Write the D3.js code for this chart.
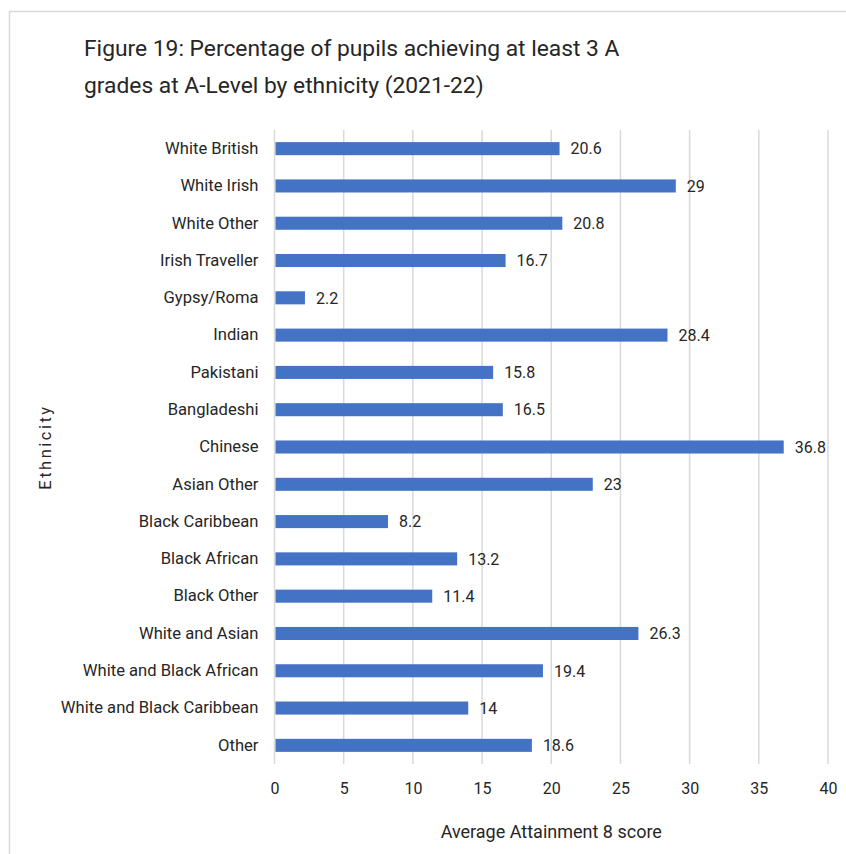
<!DOCTYPE html>
<html>
<head>
<meta charset="utf-8">
<script src="https://cdn.jsdelivr.net/npm/d3@7"></script>
<style>
  html, body { margin: 0; padding: 0; background: #fff; }
  svg { display: block; }
  text { font-family: Roboto, "Noto Sans", sans-serif; fill: #262626; }
</style>
</head>
<body>
<svg id="chart" width="846" height="854"></svg>
<script>
const categories = [
  "White British", "White Irish", "White Other", "Irish Traveller", "Gypsy/Roma",
  "Indian", "Pakistani", "Bangladeshi", "Chinese", "Asian Other",
  "Black Caribbean", "Black African", "Black Other", "White and Asian",
  "White and Black African", "White and Black Caribbean", "Other"
];
const values = [20.6, 29, 20.8, 16.7, 2.2, 28.4, 15.8, 16.5, 36.8, 23, 8.2, 13.2, 11.4, 26.3, 19.4, 14, 18.6];
const xTicks = [0, 5, 10, 15, 20, 25, 30, 35, 40];
const titleLines = [
  "Figure 19: Percentage of pupils achieving at least 3 A",
  "grades at A-Level by ethnicity (2021-22)"
];
const xAxisTitle = "Average Attainment 8 score";
const yAxisTitle = "Ethnicity";

const svg = d3.select("#chart");
const W = 846, H = 854;
const plot = { left: 274.5, right: 828, top: 130, bottom: 764 };
const labelFont = 'Roboto, "Noto Sans", sans-serif';

// outer chart frame
svg.append("rect")
  .attr("x", 9.5).attr("y", 11.5)
  .attr("width", W + 10).attr("height", H + 10)
  .attr("fill", "#fff").attr("stroke", "#d9d9d9").attr("stroke-width", 1.5);

// title
svg.append("g").selectAll("text").data(titleLines).join("text")
  .attr("x", 84).attr("y", (d, i) => 56 + i * 37)
  .attr("font-size", 22.8)
  .text(d => d);

const x = d3.scaleLinear().domain([0, 40]).range([plot.left, plot.right]);
const y = d3.scaleBand().domain(categories).range([plot.top, plot.bottom]).paddingInner(0.65).paddingOuter(0.325);

// vertical gridlines
svg.append("g").selectAll("line").data(xTicks).join("line")
  .attr("x1", d => x(d)).attr("x2", d => x(d))
  .attr("y1", plot.top).attr("y2", plot.bottom)
  .attr("stroke", "#d9d9d9").attr("stroke-width", 1.5);

// bars
svg.append("g").selectAll("rect").data(categories).join("rect")
  .attr("x", x(0) + 1)
  .attr("y", d => y(d))
  .attr("width", (d, i) => x(values[i]) - x(0) - 1)
  .attr("height", y.bandwidth())
  .attr("fill", "#4472c4");

// value labels
svg.append("g").selectAll("text").data(categories).join("text")
  .attr("x", (d, i) => x(values[i]) + 11)
  .attr("y", d => y(d) + y.bandwidth() / 2)
  .attr("dy", "0.36em")
  .attr("font-size", 16)
  .text((d, i) => values[i]);

// category axis
const yAxis = d3.axisLeft(y).tickSize(0).tickPadding(16);
const gy = svg.append("g").attr("transform", `translate(${plot.left},0)`).call(yAxis);
gy.select(".domain").remove();
gy.selectAll("text").attr("font-size", 16.6).attr("fill", "#262626")
  .style("font-family", labelFont);

// value axis
const xAxis = d3.axisBottom(x).tickValues(xTicks).tickSize(0).tickPadding(19);
const gx = svg.append("g").attr("transform", `translate(0,${plot.bottom})`).call(xAxis);
gx.select(".domain").remove();
gx.selectAll("text").attr("font-size", 16).attr("fill", "#262626")
  .style("font-family", labelFont);

// axis titles
svg.append("text")
  .attr("x", (plot.left + plot.right) / 2).attr("y", 838)
  .attr("text-anchor", "middle").attr("font-size", 18)
  .text(xAxisTitle);

svg.append("text")
  .attr("transform", `translate(51,${(plot.top + plot.bottom) / 2}) rotate(-90)`)
  .attr("text-anchor", "middle").attr("font-size", 16.5)
  .attr("letter-spacing", 2.5)
  .text(yAxisTitle);
</script>
</body>
</html>
